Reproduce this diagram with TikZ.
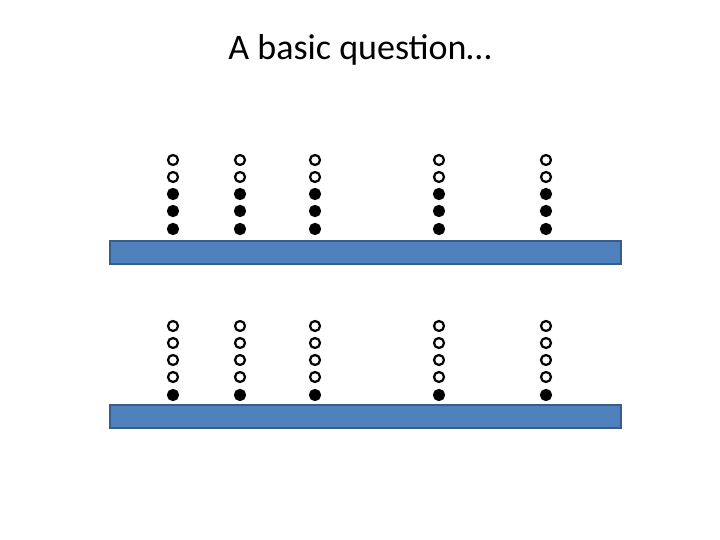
\documentclass[tikz,border=0pt]{standalone}
\usepackage{fontspec}
\setmainfont{Carlito}
\definecolor{barfill}{RGB}{79,129,189}
\definecolor{barline}{RGB}{56,93,138}
\tikzset{
  bead/.style={circle, draw=black, line width=2.2pt, minimum size=10pt, inner sep=0pt},
  openbead/.style={bead, fill=white},
  fullbead/.style={bead, fill=black},
  rod/.style={fill=barfill, draw=barline, line width=1.5pt}
}
\begin{document}
\begin{tikzpicture}[x=1pt,y=-1pt]
  \useasboundingbox (0,0) rectangle (720,540);
  \node (title) at (360,50) {\fontsize{36}{40}\selectfont A basic question…};
  % upper bar with beads
  \draw[rod] (110,241) rectangle (621,264);
  \foreach \x [count=\i] in {173,240,315,439,546} {
    \foreach \y [count=\j] in {160,177,194,211,229} {
      \ifnum\j<3
        \node[openbead] (u\i-\j) at (\x,\y) {};
      \else
        \node[fullbead] (u\i-\j) at (\x,\y) {};
      \fi
    }
  }
  % lower bar with beads
  \draw[rod] (110,405) rectangle (621,428);
  \foreach \x [count=\i] in {173,240,315,439,546} {
    \foreach \y [count=\j] in {326,343,360,377,395} {
      \ifnum\j<5
        \node[openbead] (l\i-\j) at (\x,\y) {};
      \else
        \node[fullbead] (l\i-\j) at (\x,\y) {};
      \fi
    }
  }
\end{tikzpicture}
\end{document}
